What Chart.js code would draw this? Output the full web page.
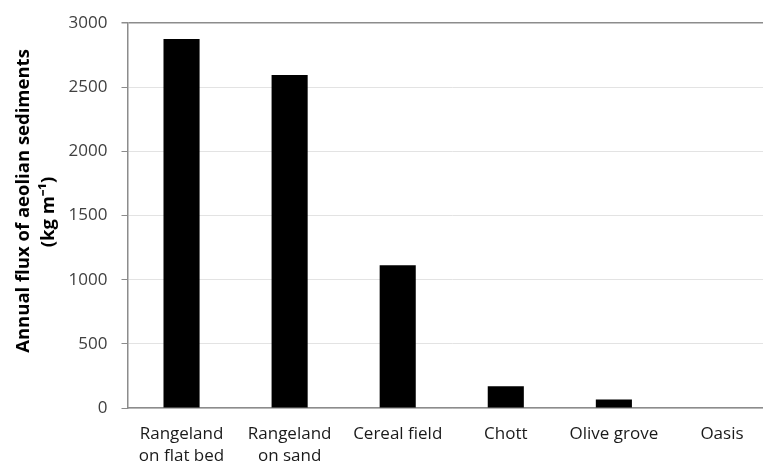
<!DOCTYPE html>
<html>
<head>
<meta charset="utf-8">
<script src="https://cdn.jsdelivr.net/npm/chart.js@4"></script>
<style>
  html, body { margin: 0; padding: 0; background: #fff; overflow: hidden; }
  #wrap { position: relative; width: 776px; height: 465px; }
</style>
</head>
<body>
<div id="wrap"><canvas id="c"></canvas></div>
<script>
const categories = [
  ['Rangeland', 'on flat bed'],
  ['Rangeland', 'on sand'],
  'Cereal field',
  'Chott',
  'Olive grove',
  'Oasis'
];
const fluxValues = [2875, 2595, 1112, 170, 66, 0];
const yTicks = [0, 500, 1000, 1500, 2000, 2500, 3000];
const yTitle = ['Annual flux of aeolian sediments', '(kg m\u207B\u00B9)'];

const yTitlePlugin = {
  id: 'yTitlePlugin',
  afterDraw(chart) {
    const ctx = chart.ctx;
    ctx.save();
    ctx.fillStyle = '#000';
    ctx.font = 'bold 18.5px "Open Sans"';
    ctx.textAlign = 'center';
    ctx.textBaseline = 'middle';
    const pos = [[24, 201], [49, 212]];
    yTitle.forEach((line, i) => {
      ctx.save();
      ctx.translate(pos[i][0], pos[i][1]);
      ctx.rotate(-Math.PI / 2);
      ctx.fillText(line, 0, 0);
      ctx.restore();
    });
    ctx.restore();
  }
};

new Chart(document.getElementById('c'), {
  type: 'bar',
  data: {
    labels: categories,
    datasets: [{
      data: fluxValues,
      backgroundColor: '#000',
      borderWidth: 0,
      barPercentage: 0.334,
      categoryPercentage: 1.0
    }]
  },
  plugins: [yTitlePlugin],
  options: {
    responsive: true,
    maintainAspectRatio: false,
    animation: false,
    layout: { padding: { top: 23, right: 0, left: 0, bottom: 0 } },
    plugins: { legend: { display: false }, tooltip: { enabled: false } },
    scales: {
      x: {
        grid: { display: false, drawTicks: false },
        border: { display: true, color: '#8c8c8c', width: 1.5 },
        ticks: {
          color: '#1a1a1a',
          font: { family: 'Open Sans', size: 17, lineHeight: 1.3 },
          padding: 15, maxRotation: 0, autoSkip: false
        },
        afterFit(scale) { scale.height = 57; }
      },
      y: {
        min: 0, max: 3000,
        afterBuildTicks(scale) { scale.ticks = yTicks.map(v => ({ value: v })); },
        grid: {
          color: ctx => (ctx.tick && ctx.tick.value === 3000) ? '#8c8c8c' : '#e3e3e3',
          lineWidth: ctx => (ctx.tick && ctx.tick.value === 3000) ? 1.5 : 1,
          tickColor: '#8c8c8c',
          tickLength: 6,
          drawTicks: true
        },
        border: { display: true, color: '#8c8c8c', width: 1.5 },
        ticks: {
          color: '#404040',
          font: { family: 'Open Sans', size: 17, lineHeight: 1.0 },
          padding: 14,
          callback: v => String(v)
        },
        afterFit(scale) { scale.width = 127.5; }
      }
    }
  }
});
</script>
</body>
</html>
